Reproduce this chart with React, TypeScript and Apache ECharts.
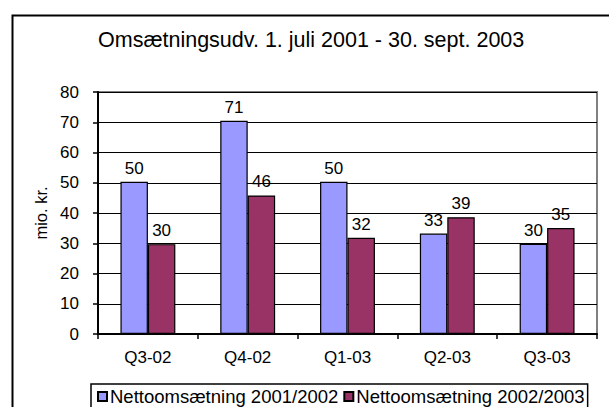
import React, { useEffect, useRef } from "react";
import * as echarts from "echarts";

const categories = ["Q3-02", "Q4-02", "Q1-03", "Q2-03", "Q3-03"];
const series1Name = "Nettoomsætning 2001/2002";
const series2Name = "Nettoomsætning 2002/2003";
const series1Values = [50.3, 70.5, 50.3, 33.2, 29.8];
const series2Values = [29.7, 45.8, 31.8, 38.6, 35.0];
const titleText = "Omsætningsudv. 1. juli 2001 - 30. sept. 2003";
const yAxisName = "mio. kr.";

const FONT = "'Liberation Sans', Arial, sans-serif";

export default function App() {
  const ref = useRef<HTMLDivElement>(null);
  useEffect(() => {
    if (!ref.current) return;
    const chart = echarts.init(ref.current, null, { renderer: "svg" });
    const labelCfg = {
      show: true,
      position: "top" as const,
      distance: 5,
      color: "#000",
      fontFamily: FONT,
      fontSize: 17,
      formatter: (p: any) => String(Math.round(p.value)),
    };
    chart.setOption({
      animation: false,
      backgroundColor: "#fff",
      textStyle: { fontFamily: FONT },
      title: {
        text: titleText,
        left: 93,
        top: 24,
        textStyle: { fontFamily: FONT, fontSize: 21.5, fontWeight: "normal", color: "#000" },
      },
      graphic: [
        {
          type: "rect",
          left: 10,
          top: 13,
          shape: { x: 0, y: 0, width: 700, height: 500 },
          style: { fill: "none", stroke: "#000", lineWidth: 2 },
          silent: true,
          z: -1,
        },
      ],
      legend: {
        left: 91,
        top: 384,
        padding: [3, 3, 10, 6],
        itemGap: 5,
        itemWidth: 9,
        itemHeight: 9,
        icon: "rect",
        borderColor: "#000",
        borderWidth: 1.5,
        backgroundColor: "#fff",
        textStyle: { fontFamily: FONT, fontSize: 18.5, color: "#000", padding: [0, 0, 0, -2] },
        data: [series1Name, series2Name],
      },
      grid: {
        left: 98,
        top: 92,
        right: 12,
        bottom: 73,
        show: true,
        borderColor: "#808080",
        borderWidth: 2,
        backgroundColor: "#fff",
      },
      xAxis: {
        type: "category",
        data: categories,
        boundaryGap: true,
        axisLine: { lineStyle: { color: "#000", width: 2 } },
        axisTick: { show: true, length: 5, lineStyle: { color: "#000", width: 1.5 } },
        axisLabel: { color: "#000", fontFamily: FONT, fontSize: 17, margin: 15 },
        splitLine: { show: false },
      },
      yAxis: {
        type: "value",
        min: 0,
        max: 80,
        interval: 10,
        name: yAxisName,
        nameLocation: "middle",
        nameGap: 48,
        nameRotate: 90,
        nameTextStyle: { fontFamily: FONT, fontSize: 16.5, color: "#000" },
        axisLine: { show: true, lineStyle: { color: "#000", width: 2 } },
        axisTick: { show: true, length: 5, lineStyle: { color: "#000", width: 1.5 } },
        axisLabel: { color: "#000", fontFamily: FONT, fontSize: 17, margin: 19 },
        splitLine: { show: true, lineStyle: { color: "#000", width: 1.2 } },
      },
      series: [
        {
          name: series1Name,
          type: "bar",
          data: series1Values,
          barGap: "0%",
          barCategoryGap: "45%",
          itemStyle: { color: "#9999FF", borderColor: "#000", borderWidth: 1.2 },
          label: labelCfg,
        },
        {
          name: series2Name,
          type: "bar",
          data: series2Values,
          itemStyle: { color: "#993366", borderColor: "#000", borderWidth: 1.2 },
          label: labelCfg,
        },
      ],
    });
    return () => chart.dispose();
  }, []);
  return (
    <div
      ref={ref}
      style={{ position: "fixed", left: 0, top: 0, width: 609, height: 407 }}
    />
  );
}
